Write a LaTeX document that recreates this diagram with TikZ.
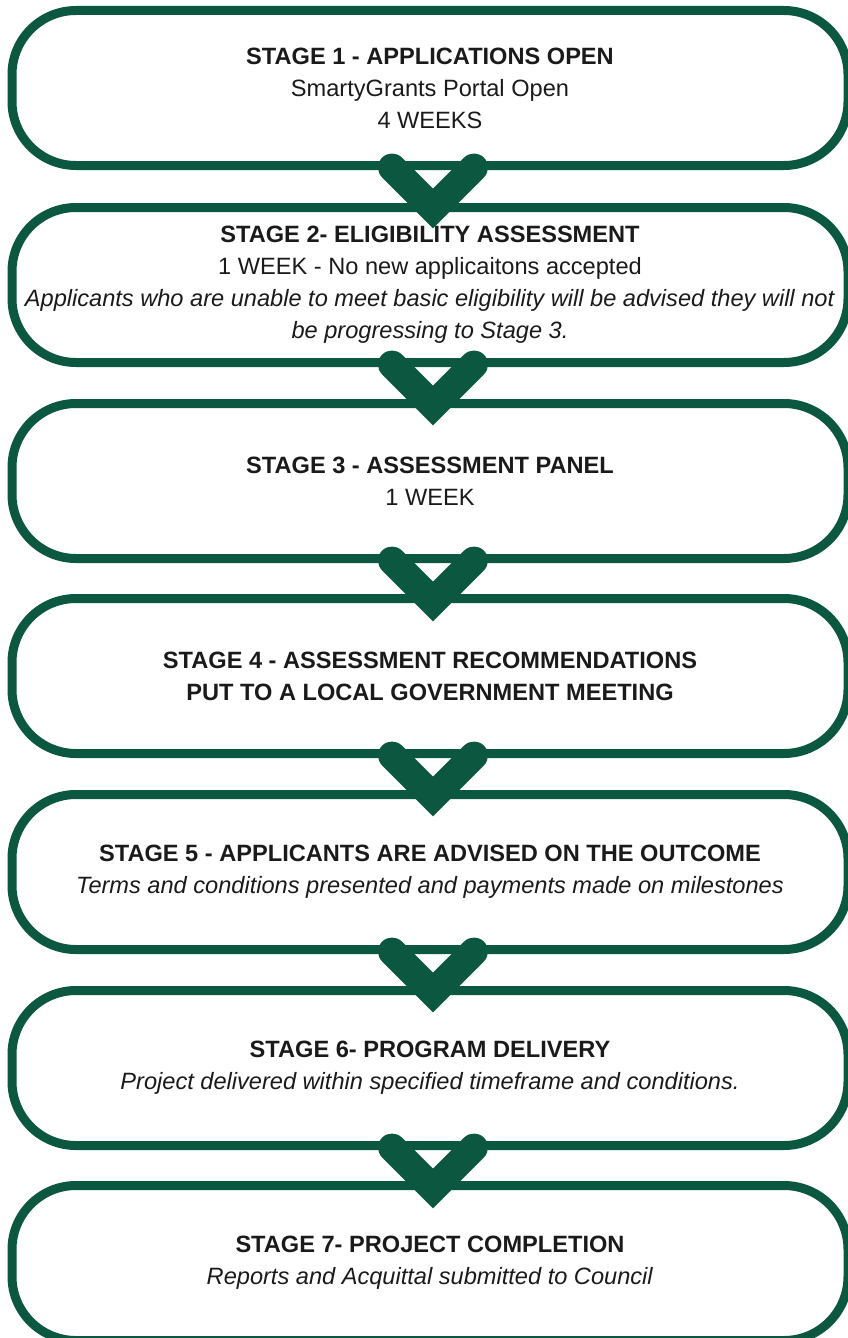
\documentclass[tikz,border=0pt]{standalone}
\usepackage{fontspec}
\setmainfont{Liberation Sans}
\definecolor{stagegreen}{RGB}{11,87,64}
\definecolor{stagetext}{RGB}{26,26,26}

\begin{document}
\begin{tikzpicture}[x=1pt,y=-1pt,
  stage/.style={draw=stagegreen,line width=9pt,rounded corners=64pt,
    minimum width=836pt,minimum height=155pt,outer sep=0pt,inner sep=0pt,
    align=center,text=stagetext,font=\fontsize{23.6}{32}\selectfont},
  chevron/.style={draw=stagegreen,line width=28pt,line cap=round,line join=miter}]
\useasboundingbox (0,0) rectangle (848,1338);
\clip (0,0) rectangle (848,1338);
% stages
\node[stage] (s1) at (430,88) {\textbf{STAGE 1 - APPLICATIONS OPEN}\\SmartyGrants Portal Open\\4 WEEKS};
\node[stage] (s2) at (430,285) {\textbf{STAGE 2- ELIGIBILITY ASSESSMENT}\\1 WEEK - No new applicaitons accepted\\\textit{Applicants who are unable to meet basic eligibility will be advised they will not}\\\textit{be progressing to Stage 3.}};
\node[stage] (s3) at (430,481) {\textbf{STAGE 3 - ASSESSMENT PANEL}\\1 WEEK};
\node[stage] (s4) at (430,676) {\textbf{STAGE 4 - ASSESSMENT RECOMMENDATIONS}\\\textbf{PUT TO A LOCAL GOVERNMENT MEETING}};
\node[stage] (s5) at (430,872) {\textbf{STAGE 5 - APPLICANTS ARE ADVISED ON THE OUTCOME}\\\textit{Terms and conditions presented and payments made on milestones}};
\node[stage] (s6) at (430,1068) {\textbf{STAGE 6- PROGRAM DELIVERY}\\\textit{Project delivered within specified timeframe and conditions.}};
\node[stage] (s7) at (430,1263) {\textbf{STAGE 7- PROJECT COMPLETION}\\\textit{Reports and Acquittal submitted to Council}};
% chevrons between stages
\draw[chevron] ([shift={(-38,2)}]s1.south) -- ([shift={(3,43)}]s1.south) -- ([shift={(44,2)}]s1.south);
\draw[chevron] ([shift={(-38,2)}]s2.south) -- ([shift={(3,43)}]s2.south) -- ([shift={(44,2)}]s2.south);
\draw[chevron] ([shift={(-38,2)}]s3.south) -- ([shift={(3,43)}]s3.south) -- ([shift={(44,2)}]s3.south);
\draw[chevron] ([shift={(-38,2)}]s4.south) -- ([shift={(3,43)}]s4.south) -- ([shift={(44,2)}]s4.south);
\draw[chevron] ([shift={(-38,2)}]s5.south) -- ([shift={(3,43)}]s5.south) -- ([shift={(44,2)}]s5.south);
\draw[chevron] ([shift={(-38,2)}]s6.south) -- ([shift={(3,43)}]s6.south) -- ([shift={(44,2)}]s6.south);
\end{tikzpicture}
\end{document}
